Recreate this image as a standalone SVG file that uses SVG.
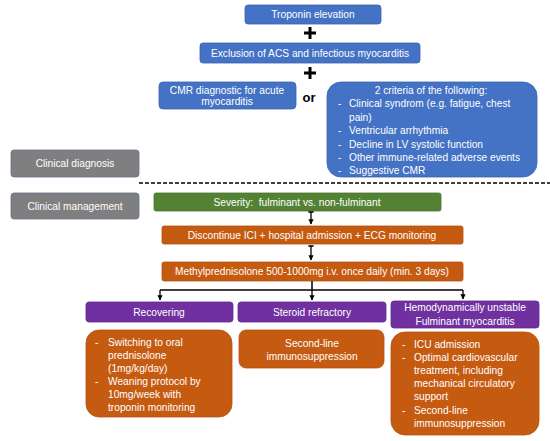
<svg xmlns="http://www.w3.org/2000/svg" width="550" height="441" viewBox="0 0 550 441">
<defs>
<marker id="ah" viewBox="0 0 10 10" refX="9" refY="5" markerWidth="4" markerHeight="4" orient="auto"><path d="M0,0 L10,5 L0,10 z" fill="#000"/></marker>
<marker id="tail" viewBox="0 0 10 10" refX="5" refY="5" markerWidth="4" markerHeight="4" orient="auto"><path d="M5,0 L5,10" stroke="#000" stroke-width="3"/></marker>
</defs>
<style>
text{font-family:"Liberation Sans",Arial,sans-serif;font-size:10.2px;fill:#fff}
.c{text-anchor:middle}
.blue{fill:#4472C4;stroke:#3A64AE;stroke-width:0.8}
.gray{fill:#7F7F7F;stroke:#5F7590;stroke-width:0.8}
.green{fill:#548235;stroke:#4A7530;stroke-width:0.8}
.orange{fill:#C55A11;stroke:#B5520F;stroke-width:0.8}
.purple{fill:#7030A0;stroke:#632A8E;stroke-width:0.8}
.plus{stroke:#000;stroke-width:3;fill:none}
.ln{stroke:#000;stroke-width:1.5;fill:none}
.ar{stroke:#000;stroke-width:1.3;fill:none;marker-end:url(#ah)}
.blk{fill:#000;font-weight:bold;font-size:13px}
</style>
<g id="troponin"><rect class="blue" x="245" y="5" width="136" height="19" rx="3"/><text class="c" x="313" y="18">Troponin elevation</text></g>
<g id="plus1"><path class="plus" d="M304,33 H316 M310,27 V39"/></g>
<g id="exclusion"><rect class="blue" x="200" y="43" width="220" height="20" rx="3"/><text class="c" x="310" y="56.5">Exclusion of ACS and infectious myocarditis</text></g>
<g id="plus2"><path class="plus" d="M304,73 H316 M310,67 V79"/></g>
<g id="cmr"><rect class="blue" x="159" y="82" width="137" height="27" rx="4"/><text class="c" x="227" y="93.5">CMR diagnostic for acute</text><text class="c" x="227" y="105">myocarditis</text></g>
<g id="or"><text class="blk c" x="309" y="102">or</text></g>
<g id="criteria"><rect class="blue" x="327" y="82" width="210" height="95" rx="14"/>
<text class="c" x="431" y="94">2 criteria of the following:</text>
<text x="338" y="107">-</text><text x="349" y="107">Clinical syndrom (e.g. fatigue, chest</text>
<text x="349" y="120.5">pain)</text>
<text x="338" y="134">-</text><text x="349" y="134">Ventricular arrhythmia</text>
<text x="338" y="147.5">-</text><text x="349" y="147.5">Decline in LV systolic function</text>
<text x="338" y="161">-</text><text x="349" y="161">Other immune-related adverse events</text>
<text x="338" y="174">-</text><text x="349" y="174">Suggestive CMR</text></g>
<g id="clin-diag"><rect class="gray" x="11" y="150" width="128" height="27" rx="3"/><text class="c" x="75" y="167">Clinical diagnosis</text></g>
<g id="divider"><path d="M139,183 H550" stroke="#000" stroke-width="1.5" stroke-dasharray="4,2"/></g>
<g id="clin-mgmt"><rect class="gray" x="11" y="193" width="128" height="26" rx="3"/><text class="c" x="75" y="210">Clinical management</text></g>
<g id="severity"><rect class="green" x="154" y="193" width="287" height="18" rx="2"/><text class="c" x="297" y="205.5" xml:space="preserve">Severity:  fulminant vs. non-fulminant</text></g>
<g id="discontinue"><rect class="orange" x="162" y="226" width="301" height="18" rx="2"/><text class="c" x="312" y="238.5">Discontinue ICI + hospital admission + ECG monitoring</text></g>
<g id="methyl"><rect class="orange" x="162" y="262" width="301" height="19" rx="2"/><text class="c" x="312" y="275">Methylprednisolone 500-1000mg i.v. once daily (min. 3 days)</text></g>
<g id="recovering"><rect class="purple" x="86" y="302" width="147" height="20" rx="3"/><text class="c" x="159" y="315.5">Recovering</text></g>
<g id="refractory"><rect class="purple" x="238" y="302" width="148" height="20" rx="3"/><text class="c" x="312" y="315.5">Steroid refractory</text></g>
<g id="unstable"><rect class="purple" x="391" y="301" width="148" height="27" rx="3"/><text class="c" x="465" y="311">Hemodynamically unstable</text><text class="c" x="465" y="324.5">Fulminant myocarditis</text></g>
<g id="rec-detail"><rect class="orange" x="86" y="330" width="146" height="87" rx="13"/>
<text x="95" y="345.5">-</text><text x="108" y="345.5">Switching to oral</text>
<text x="108" y="358.5">prednisolone</text>
<text x="108" y="371.5">(1mg/kg/day)</text>
<text x="95" y="384.5">-</text><text x="108" y="384.5">Weaning protocol by</text>
<text x="108" y="397.5">10mg/week with</text>
<text x="108" y="410.5">troponin monitoring</text></g>
<g id="ref-detail"><rect class="orange" x="239" y="330" width="145" height="38" rx="7"/>
<text class="c" x="312" y="346.5">Second-line</text><text class="c" x="312" y="360">immunosuppression</text></g>
<g id="uns-detail"><rect class="orange" x="391" y="332" width="148" height="103" rx="14"/>
<text x="402" y="347.5">-</text><text x="414" y="347.5">ICU admission</text>
<text x="402" y="360.5">-</text><text x="414" y="360.5">Optimal cardiovascular</text>
<text x="414" y="373.5">treatment, including</text>
<text x="414" y="387">mechanical circulatory</text>
<text x="414" y="400">support</text>
<text x="402" y="413.5">-</text><text x="414" y="413.5">Second-line</text>
<text x="414" y="426.5">immunosuppression</text></g>
<g id="connectors">
<path class="ar" d="M311,212 V224" marker-start="url(#tail)"/>
<path class="ar" d="M311,246 V260" marker-start="url(#tail)"/>
<path class="ln" d="M312,281 V290 M160,290 H463"/>
<path class="ar" d="M160,290 V300"/>
<path class="ar" d="M312,290 V300"/>
<path class="ar" d="M463,290 V299"/>
</g>
</svg>
